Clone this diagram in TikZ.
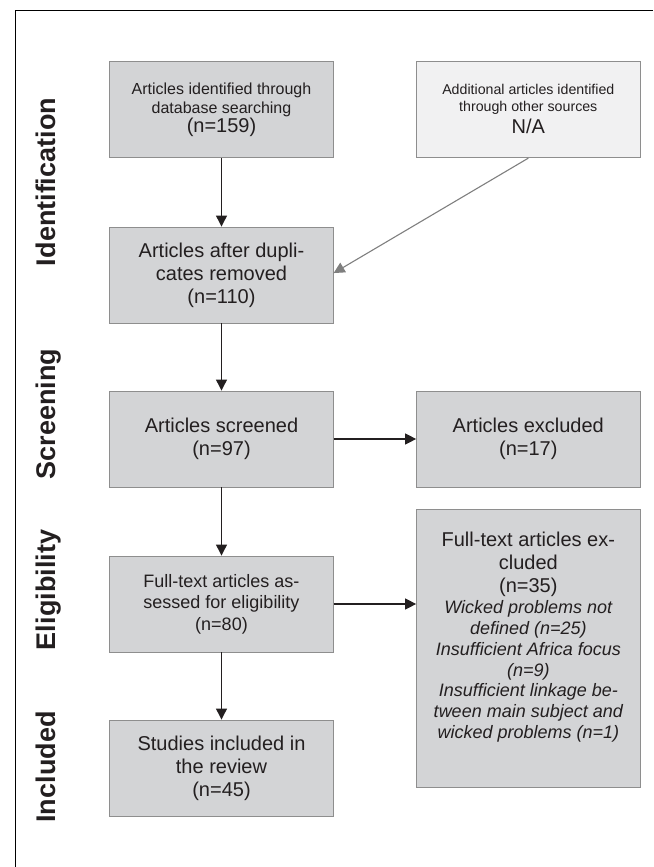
\documentclass[tikz,border=0pt]{standalone}
\usepackage{fontspec}
\setmainfont{Liberation Sans}
\usetikzlibrary{arrows.meta,calc}
\definecolor{boxfill}{HTML}{D3D4D6}
\definecolor{boxfilllight}{HTML}{F1F1F2}
\definecolor{boxline}{HTML}{8E8E8E}
\definecolor{ink}{HTML}{231F20}
\definecolor{grayarrow}{HTML}{7F7F7F}
\tikzset{
  stepbox/.style={draw=boxline, line width=0.9pt, fill=boxfill, minimum width=223.4pt,
    minimum height=96pt, inner sep=0pt, align=center, text=ink,
    font=\fontsize{20}{23}\selectfont},
  lightbox/.style={stepbox, fill=boxfilllight},
  boxtext/.style={align=center, text=ink, inner sep=0pt},
  phase/.style={rotate=90, anchor=base, text=ink, font=\fontsize{27}{30}\selectfont\bfseries},
  flow/.style={draw=ink, line width=1.2pt, -{Triangle[length=11pt,width=11pt]}},
  grayflow/.style={draw=grayarrow, line width=1.1pt, -{Triangle[length=11pt,width=11pt]}},
}
\begin{document}
\begin{tikzpicture}[x=1pt,y=-1pt]
\useasboundingbox (0,0) rectangle (653,867);
\draw[line width=0.9pt, black] (15.4,867) -- (15.4,10.7) -- (653,10.7);

% phase labels
\node[phase] (lid) at (55,182) {Identification};
\node[phase] (lscr) at (55,414) {Screening};
\node[phase] (lel) at (55,590) {Eligibility};
\node[phase] (linc) at (55,767) {Included};

% boxes
\node[stepbox] (id) at (221.5,109.7) {};
\node[boxtext, font=\fontsize{16}{18.3}\selectfont] (idt) at (221.5,100) {Articles identified through\\ database searching};
\node[boxtext, font=\fontsize{20}{23}\selectfont] (idn) at (221.5,127.5) {(n=159)};
\node[lightbox] (add) at (528.3,109.7) {};
\node[boxtext, font=\fontsize{14.2}{17}\selectfont] (addt) at (528.3,99.5) {Additional articles identified\\ through other sources};
\node[boxtext, font=\fontsize{20}{23}\selectfont] (addn) at (528.3,126.5) {N/A};
\node[stepbox] (dup) at (221.5,275) {Articles after dupli-\\ cates removed\\ (n=110)};
\node[stepbox] (scr) at (221.5,439) {Articles screened\\ (n=97)};
\node[stepbox] (exc) at (528.3,439) {Articles excluded\\ (n=17)};
\node[stepbox, font=\fontsize{18}{21.5}\selectfont] (fte) at (221.5,604) {Full-text articles as-\\ sessed for eligibility\\ (n=80)};
\node[stepbox, minimum height=278pt] (ex2) at (528.3,648) {};
\node[boxtext, font=\fontsize{20}{23}\selectfont] (ex2a) at (528.3,564) {Full-text articles ex-\\ cluded\\ (n=35)};
\node[boxtext, font=\fontsize{18}{20.8}\selectfont\itshape] (ex2b) at (528.3,671.5) {Wicked problems not\\ defined (n=25)\\ Insufficient Africa focus\\ (n=9)\\ Insufficient linkage be-\\ tween main subject and\\ wicked problems (n=1)};
\node[stepbox] (inc) at (221.5,768) {Studies included in\\ the review\\ (n=45)};

% connectors
\draw[flow] (id) -- (dup);
\draw[grayflow] (add.south) -- ($(dup.north east)!0.48!(dup.south east)$);
\draw[flow] (dup) -- (scr);
\draw[flow] (scr) -- (exc);
\draw[flow] (scr) -- (fte);
\draw[flow] (fte.east) -- (fte.east -| ex2.west);
\draw[flow] (fte) -- (inc);
\end{tikzpicture}
\end{document}
